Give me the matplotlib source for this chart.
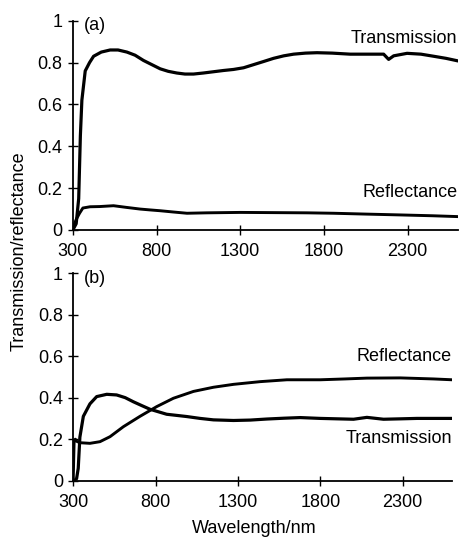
import matplotlib
matplotlib.use("Agg")
import matplotlib.pyplot as plt

plt.rcParams.update({
    "font.family": ["Liberation Sans", "DejaVu Sans"],
    "font.size": 13,
    "axes.spines.top": False, "axes.spines.right": False,
})

# panel (a)
wl_ta = [300, 320, 335, 345, 354, 374, 400, 424, 470, 523, 570, 623, 672, 722, 772, 822,
         870, 921, 970, 1021, 1080, 1140, 1200, 1260, 1320, 1380, 1440, 1499, 1560, 1619,
         1690, 1759, 1850, 1957, 2050, 2157, 2187, 2217, 2297, 2380, 2456, 2530, 2600]
tr_a = [0.0, 0.03, 0.15, 0.45, 0.62, 0.76, 0.80, 0.83, 0.85, 0.86, 0.86, 0.85, 0.835,
        0.81, 0.79, 0.77, 0.758, 0.75, 0.745, 0.745, 0.75, 0.756, 0.762, 0.767, 0.775,
        0.79, 0.805, 0.82, 0.832, 0.84, 0.845, 0.847, 0.845, 0.84, 0.84, 0.84, 0.815,
        0.832, 0.844, 0.84, 0.83, 0.82, 0.808]
wl_ra = [300, 310, 320, 340, 360, 403, 460, 543, 620, 702, 760, 822, 900, 982, 1100,
         1300, 1500, 1700, 1857, 2050, 2256, 2450, 2600]
rf_a = [0.0, 0.03, 0.05, 0.08, 0.105, 0.111, 0.112, 0.116, 0.108, 0.10, 0.096, 0.092,
        0.086, 0.08, 0.082, 0.084, 0.083, 0.082, 0.08, 0.076, 0.072, 0.068, 0.064]

# panel (b)
wl_tb = [300, 320, 330, 340, 361, 401, 442, 503, 563, 615, 665, 715, 766, 867, 989,
         1070, 1151, 1273, 1375, 1475, 1580, 1678, 1800, 1900, 2002, 2083, 2184, 2290,
         2387, 2500, 2600]
tr_b = [0.0, 0.01, 0.06, 0.21, 0.31, 0.37, 0.405, 0.416, 0.413, 0.40, 0.38, 0.362,
        0.344, 0.32, 0.309, 0.30, 0.293, 0.29, 0.292, 0.297, 0.301, 0.304, 0.30, 0.298,
        0.296, 0.305, 0.296, 0.298, 0.30, 0.30, 0.30]
wl_rb = [300, 305, 312, 320, 340, 401, 462, 523, 604, 705, 807, 908, 1030, 1151, 1273,
         1435, 1597, 1800, 1950, 2083, 2286, 2488, 2600]
rf_b = [0.02, 0.19, 0.20, 0.19, 0.183, 0.18, 0.188, 0.212, 0.26, 0.31, 0.357, 0.397,
        0.43, 0.45, 0.464, 0.477, 0.486, 0.486, 0.49, 0.494, 0.495, 0.49, 0.486]

xticks = [300, 800, 1300, 1800, 2300]
yticks = [0, 0.2, 0.4, 0.6, 0.8, 1]
ylabels = ["0", "0.2", "0.4", "0.6", "0.8", "1"]

fig = plt.figure(figsize=(4.61, 5.37), dpi=100)
ax_a = fig.add_axes([0.158, 0.5717, 0.835, 0.3898])
ax_b = fig.add_axes([0.159, 0.1048, 0.8215, 0.3868])

for ax in (ax_a, ax_b):
    ax.set_xlim(300, 2600)
    ax.set_ylim(0, 1)
    ax.set_xticks(xticks)
    ax.set_yticks(yticks)
    ax.set_yticklabels(ylabels)
    ax.tick_params(direction="inout", length=7, width=1, pad=2)
    ax.tick_params(axis="x", pad=6)
    ax.tick_params(axis="y", pad=4)
    for s in ("left", "bottom"):
        ax.spines[s].set_linewidth(1.3)

ax_a.plot(wl_ta, tr_a, color="black", lw=2.3)
ax_a.plot(wl_ra, rf_a, color="black", lw=2.1)
ax_a.text(365, 0.975, "(a)", ha="left", va="center")
ax_a.text(2598, 0.917, "Transmission", ha="right", va="center")
ax_a.text(2598, 0.177, "Reflectance", ha="right", va="center")

ax_b.plot(wl_tb, tr_b, color="black", lw=2.3)
ax_b.plot(wl_rb, rf_b, color="black", lw=2.1)
ax_b.text(365, 0.975, "(b)", ha="left", va="center")
ax_b.text(2600, 0.60, "Reflectance", ha="right", va="center")
ax_b.text(2600, 0.205, "Transmission", ha="right", va="center")

fig.text(0.042, 0.533, "Transmission/reflectance", rotation=90, ha="center", va="center")
fig.text(0.551, 0.016, "Wavelength/nm", ha="center", va="center")

fig.savefig("out.png", dpi=100)
